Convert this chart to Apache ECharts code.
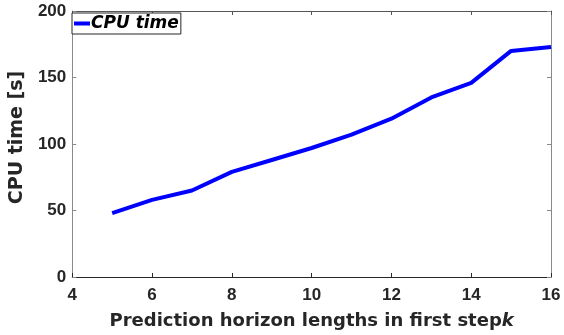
<!DOCTYPE html>
<html><head><meta charset="utf-8">
<script src="https://cdn.jsdelivr.net/npm/echarts@6/dist/echarts.min.js"></script>
<style>html,body{margin:0;padding:0;background:#fff}#c{width:564px;height:335px}</style>
</head><body><div id="c"></div>
<script>
const xValues = [5, 6, 7, 8, 9, 10, 11, 12, 13, 14, 15, 16];
const cpuTime = [48, 58, 65, 79, 88, 97, 107, 119, 135, 146, 170, 173];
const seriesName = 'CPU time';
const xTitle = 'Prediction horizon lengths in first step';
const yTitle = 'CPU time [s]';

const chart = echarts.init(document.getElementById('c'));
const axisCol = '#262626';
const sideCol = '#8a8a8a';
const font = 'Arial, "Liberation Sans", sans-serif';
const wide = '"DejaVu Sans", Arial, sans-serif';
function xa(extra, col) {
  return Object.assign({type: 'value', min: 4, max: 16, interval: 2,
    axisLine: {show: true, onZero: false, lineStyle: {color: col, width: 1}},
    axisTick: {show: true, inside: true, length: 4, lineStyle: {color: col}},
    splitLine: {show: false}}, extra);
}
function ya(extra, col) {
  return Object.assign({type: 'value', min: 0, max: 200, interval: 50,
    axisLine: {show: true, onZero: false, lineStyle: {color: col, width: 1}},
    axisTick: {show: true, inside: true, length: 4, lineStyle: {color: col}},
    splitLine: {show: false}}, extra);
}
chart.setOption({
  animation: false,
  grid: {left: 71, right: 13, top: 11, bottom: 58},
  legend: {
    data: [seriesName], left: 72, top: 13, orient: 'vertical',
    borderColor: axisCol, borderWidth: 1, backgroundColor: '#fff',
    padding: [2, 2, 2, 2], itemWidth: 16, itemHeight: 4, itemGap: 0,
    icon: 'rect',
    textStyle: {fontFamily: wide, fontSize: 17, fontWeight: 'bold', fontStyle: 'italic', color: '#000', padding: [0, 0, 0, -4]}
  },
  xAxis: [
    xa({position: 'bottom',
      name: xTitle + '{k|k}', nameLocation: 'middle', nameGap: 35,
      nameTextStyle: {fontFamily: wide, fontSize: 18, fontWeight: 'bold', color: axisCol,
        rich: {k: {fontFamily: wide, fontSize: 18, fontWeight: 'bold', fontStyle: 'italic', color: axisCol}}},
      axisLabel: {fontFamily: font, fontSize: 17, fontWeight: 'bold', color: axisCol, margin: 10}}, axisCol),
    xa({position: 'top', axisLabel: {show: false}}, '#555')
  ],
  yAxis: [
    ya({position: 'left',
      name: yTitle, nameLocation: 'middle', nameGap: 41,
      nameTextStyle: {fontFamily: wide, fontSize: 19, fontWeight: 'bold', color: axisCol, padding: [0, 0, 0, 13]},
      axisLabel: {fontFamily: font, fontSize: 17, fontWeight: 'bold', color: axisCol, margin: 6}}, sideCol),
    ya({position: 'right', axisLabel: {show: false}}, sideCol)
  ],
  series: [{
    name: seriesName, type: 'line', showSymbol: false, symbol: 'none',
    data: xValues.map((x, i) => [x, cpuTime[i]]),
    lineStyle: {color: '#0000ff', width: 4}, itemStyle: {color: '#0000ff'}
  }]
});
</script></body></html>
